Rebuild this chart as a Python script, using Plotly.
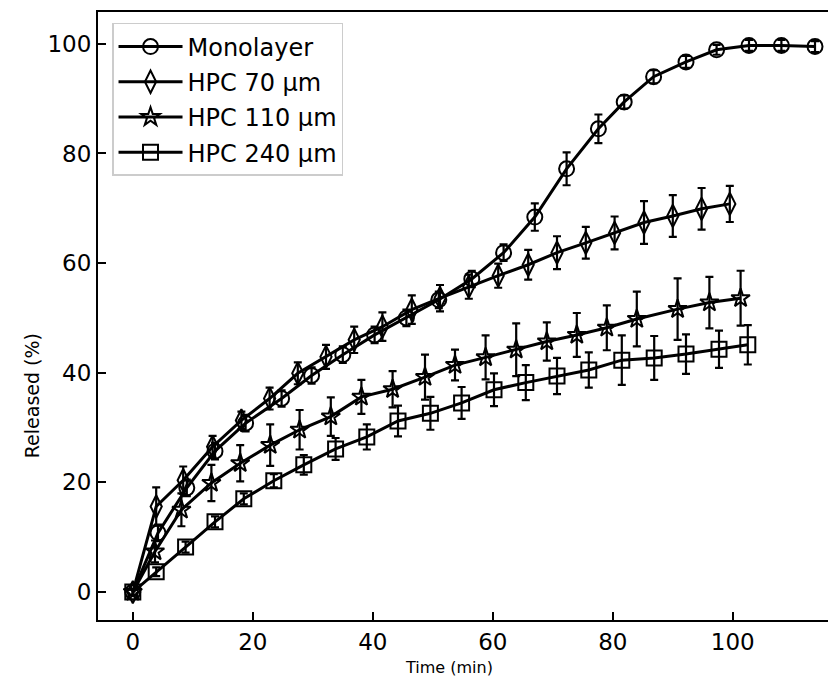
import plotly.graph_objects as go

# ---- data ----
mono_t = [0, 4.2, 9, 13.7, 18.8, 24.8, 29.8, 35, 40.3, 45.6, 51, 56.5, 61.8, 67, 72.3, 77.6, 81.9, 86.8, 92.2, 97.3, 102.7, 108.1, 113.7]
mono_y = [0, 10.8, 19, 25.7, 30.8, 35.3, 39.5, 43.3, 46.9, 50, 53.3, 57.1, 61.9, 68.4, 77.2, 84.5, 89.4, 94, 96.7, 98.9, 99.7, 99.7, 99.5]
mono_e = [0.5, 1.5, 1.5, 1.5, 1.5, 1.5, 1.5, 1.5, 1.5, 1.5, 1.5, 1.5, 1.5, 2.5, 3, 2.6, 1.2, 1.2, 1.1, 0.9, 1, 1, 1]

h70_t = [0, 3.9, 8.4, 13.3, 18.1, 22.8, 27.5, 32.2, 36.9, 41.6, 46.5, 51.2, 56, 60.9, 65.9, 70.7, 75.5, 80.3, 85.2, 90, 94.8, 99.5]
h70_y = [0, 15.6, 20.4, 26.5, 31.3, 35.3, 39.9, 42.9, 46, 48.4, 51.5, 53.6, 55.7, 57.7, 59.7, 61.9, 63.7, 65.5, 67.4, 68.6, 69.9, 70.8]
h70_e = [0.5, 3.5, 2.5, 2, 1.6, 2, 2, 2.2, 2.4, 2.6, 2.6, 2.4, 2.2, 2.2, 2.7, 3, 2.9, 3, 3.9, 3.8, 3.8, 3.3]

h110_t = [0, 3.7, 8.1, 13.1, 17.9, 22.9, 27.8, 33, 38.1, 43.3, 48.7, 53.7, 58.8, 63.9, 69, 74, 79, 84, 90.8, 96.1, 101.3]
h110_y = [0, 7.4, 15, 19.9, 23.5, 26.8, 29.6, 32, 35.6, 37, 39.2, 41.4, 42.8, 44.2, 45.7, 46.9, 48.2, 49.8, 51.6, 52.8, 53.6]
h110_e = [0.5, 2, 3, 3.3, 3.3, 3.8, 3.6, 3.5, 3.1, 3.3, 4.1, 2.8, 4, 4.8, 3.5, 4, 4.1, 5, 5.6, 4.7, 5]

h240_t = [0, 3.9, 8.8, 13.7, 18.5, 23.5, 28.5, 33.8, 39, 44.2, 49.6, 54.8, 60.2, 65.5, 70.7, 76, 81.5, 86.9, 92.2, 97.7, 102.5]
h240_y = [0, 3.7, 8.2, 12.8, 17, 20.3, 23.2, 26.1, 28.3, 31.2, 32.6, 34.5, 36.9, 38.2, 39.4, 40.5, 42.3, 42.7, 43.4, 44.3, 45.1]
h240_e = [0.5, 0.8, 1, 1, 1, 1.2, 1.8, 2, 2.3, 2.8, 3, 2.9, 3, 3.2, 3.3, 3.2, 4.5, 4, 3.6, 3.4, 3.6]

x_ticks = [0, 20, 40, 60, 80, 100]
y_ticks = [0, 20, 40, 60, 80, 100]

FONT = "DejaVu Sans"

series = [
    ("Monolayer", mono_t, mono_y, mono_e, "circle-open", 15),
    ("HPC 70 µm", h70_t, h70_y, h70_e, "diamond-tall-open", 16),
    ("HPC 110 µm", h110_t, h110_y, h110_e, "star-open", 14),
    ("HPC 240 µm", h240_t, h240_y, h240_e, "square-open", 15),
]

fig = go.Figure()
for i, (name, t, y, e, sym, sz) in enumerate(series):
    fig.add_trace(go.Scatter(
        x=t, y=y, name=name, mode="lines+markers",
        legendgroup=f"g{i}",
        line=dict(color="black", width=3),
        marker=dict(symbol=sym, size=sz, color="black", line=dict(color="black", width=2)),
        error_y=dict(type="data", array=e, visible=True, color="black", thickness=2.2, width=4),
    ))

fig.update_layout(
    width=836, height=680,
    margin=dict(l=90, r=8, t=4, b=68, autoexpand=False),
    paper_bgcolor="white", plot_bgcolor="white",
    font=dict(family=FONT, size=22, color="black"),
    showlegend=True,
    legend=dict(
        x=0.019, y=0.982, xanchor="left", yanchor="top",
        bgcolor="rgba(255,255,255,0.8)", bordercolor="#cccccc", borderwidth=1.5,
        font=dict(family=FONT, size=24, color="black"),
        tracegroupgap=1, itemwidth=64,
    ),
    xaxis=dict(
        range=[-5.8, 117.2], tickvals=x_ticks, ticktext=[str(v) for v in x_ticks],
        ticks="inside", ticklen=8, tickwidth=1.5, tickcolor="black",
        showline=True, linecolor="black", linewidth=2, mirror=True,
        showgrid=False, zeroline=False, automargin=False,
        tickfont=dict(family=FONT, size=23),
    ),
    yaxis=dict(
        range=[-5.1, 105.8], tickvals=y_ticks, ticktext=[str(v) for v in y_ticks],
        ticks="inside", ticklen=8, tickwidth=1.5, tickcolor="black",
        showline=True, linecolor="black", linewidth=2, mirror=False,
        showgrid=False, zeroline=False, automargin=False,
        tickfont=dict(family=FONT, size=23),
    ),
    annotations=[
        dict(
            text="Time (min)", xref="paper", yref="paper", x=0.476, y=0,
            xanchor="center", yanchor="middle", yshift=-47, showarrow=False,
            font=dict(family=FONT, size=16, color="black"),
        ),
        dict(
            text="Released (%)", xref="paper", yref="paper", x=0, y=0.368,
            xanchor="center", yanchor="middle", xshift=-66, textangle=-90, showarrow=False,
            font=dict(family=FONT, size=19, color="black"),
        ),
    ],
)

fig.write_html("out.html")
